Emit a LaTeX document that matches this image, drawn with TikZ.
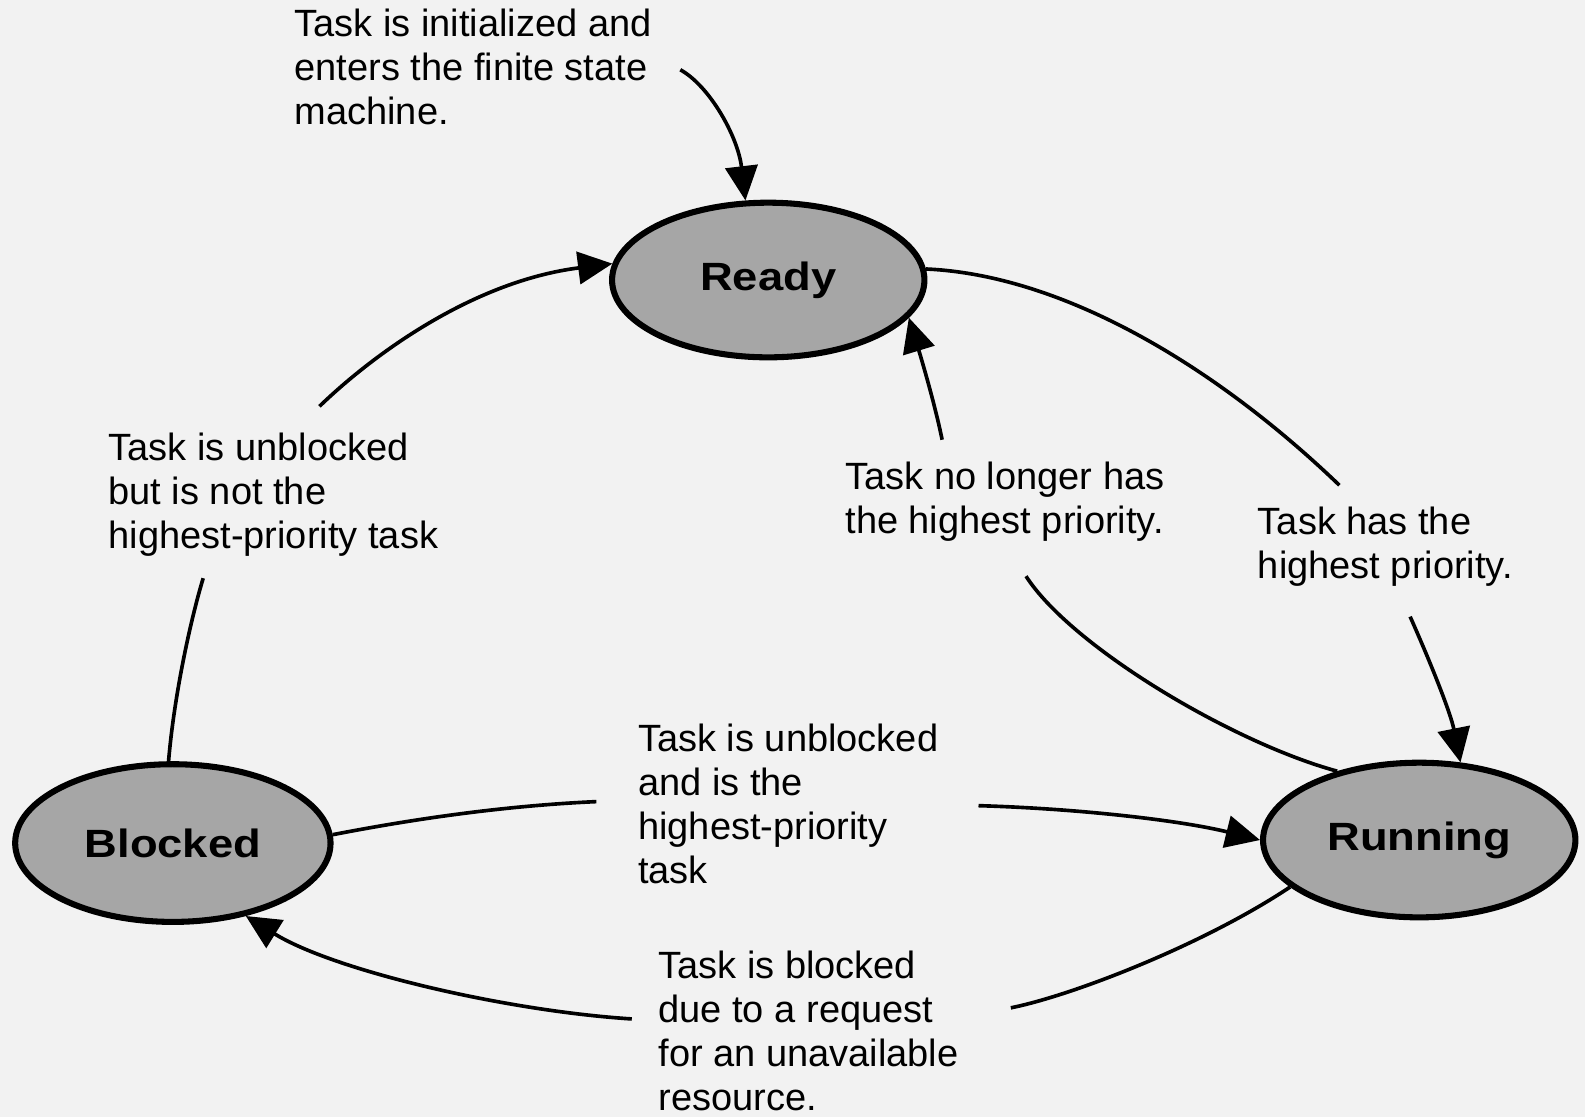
\documentclass[tikz,border=0pt]{standalone}
\usepackage{fontspec}
\setmainfont{Liberation Sans}
\usetikzlibrary{arrows.meta,shapes.geometric}
\begin{document}
\begin{tikzpicture}[x=0.5pt,y=-0.5pt,
  state/.style={ellipse, draw=black, line width=3pt, fill=gray!70,
    minimum width=154.5pt, minimum height=76.5pt, inner sep=0pt,
    font=\fontsize{19.5}{22}\selectfont\bfseries},
  note/.style={anchor=north west, align=left, inner sep=0pt,
    font=\fontsize{18.8}{21.8}\selectfont},
  trans/.style={line width=1.8pt, -{Triangle[length=17pt,width=16pt]}}]

% page
\fill[black!5] (0,0) rectangle (1568,1105);
\useasboundingbox (0,0) rectangle (1568,1105);

% states
\node[state] (Ready) at (760,277) {\scalebox{1.15}[1]{Ready}};
\node[state, minimum width=156pt, minimum height=78pt] (Blocked) at (171,834) {\scalebox{1.15}[1]{Blocked}};
\node[state] (Running) at (1404,831) {\scalebox{1.15}[1]{Running}};

% transition notes
\node[note] (t1) at (291,8) {Task is initialized and\\enters the finite state\\machine.};
\node[note] (t2) at (107,428) {Task is unblocked\\but is not the\\highest-priority task};
\node[note] (t3) at (836,457) {Task no longer has\\the highest priority.};
\node[note] (t4) at (1244,501) {Task has the\\highest priority.};
\node[note] (t5) at (631,716) {Task is unblocked\\and is the\\highest-priority\\task};
\node[note] (t6) at (651,940) {Task is blocked\\due to a request\\for an unavailable\\resource.};

% entry into the state machine
\coordinate (init) at (673,69);
\draw[trans] (init) .. controls (702,85) and (730,135) .. (Ready.106);

% transitions, each broken where its note sits
\draw[trans] (Blocked.93) .. controls (172,690) and (188,615) .. (201,572)
  (316,402) .. controls (372,348) and (470,278) .. (Ready.174);
\draw[trans] (Ready.4) .. controls (1050,272) and (1200,360) .. (1325,480)
  (1395,610) .. controls (1415,655) and (1435,705) .. (Running.62);
\draw[trans] (Running.140) .. controls (1220,735) and (1060,640) .. (1015,570)
  (932,435) .. controls (925,400) and (910,350) .. (Ready.-15);
\draw[trans] (Blocked.3) .. controls (410,810) and (500,797) .. (590,793)
  (968,797) .. controls (1070,800) and (1170,812) .. (Running.180);
\draw[trans] (Running.200) .. controls (1190,935) and (1060,985) .. (1000,997)
  (625,1008) .. controls (500,1000) and (330,960) .. (Blocked.-45);
\end{tikzpicture}
\end{document}
